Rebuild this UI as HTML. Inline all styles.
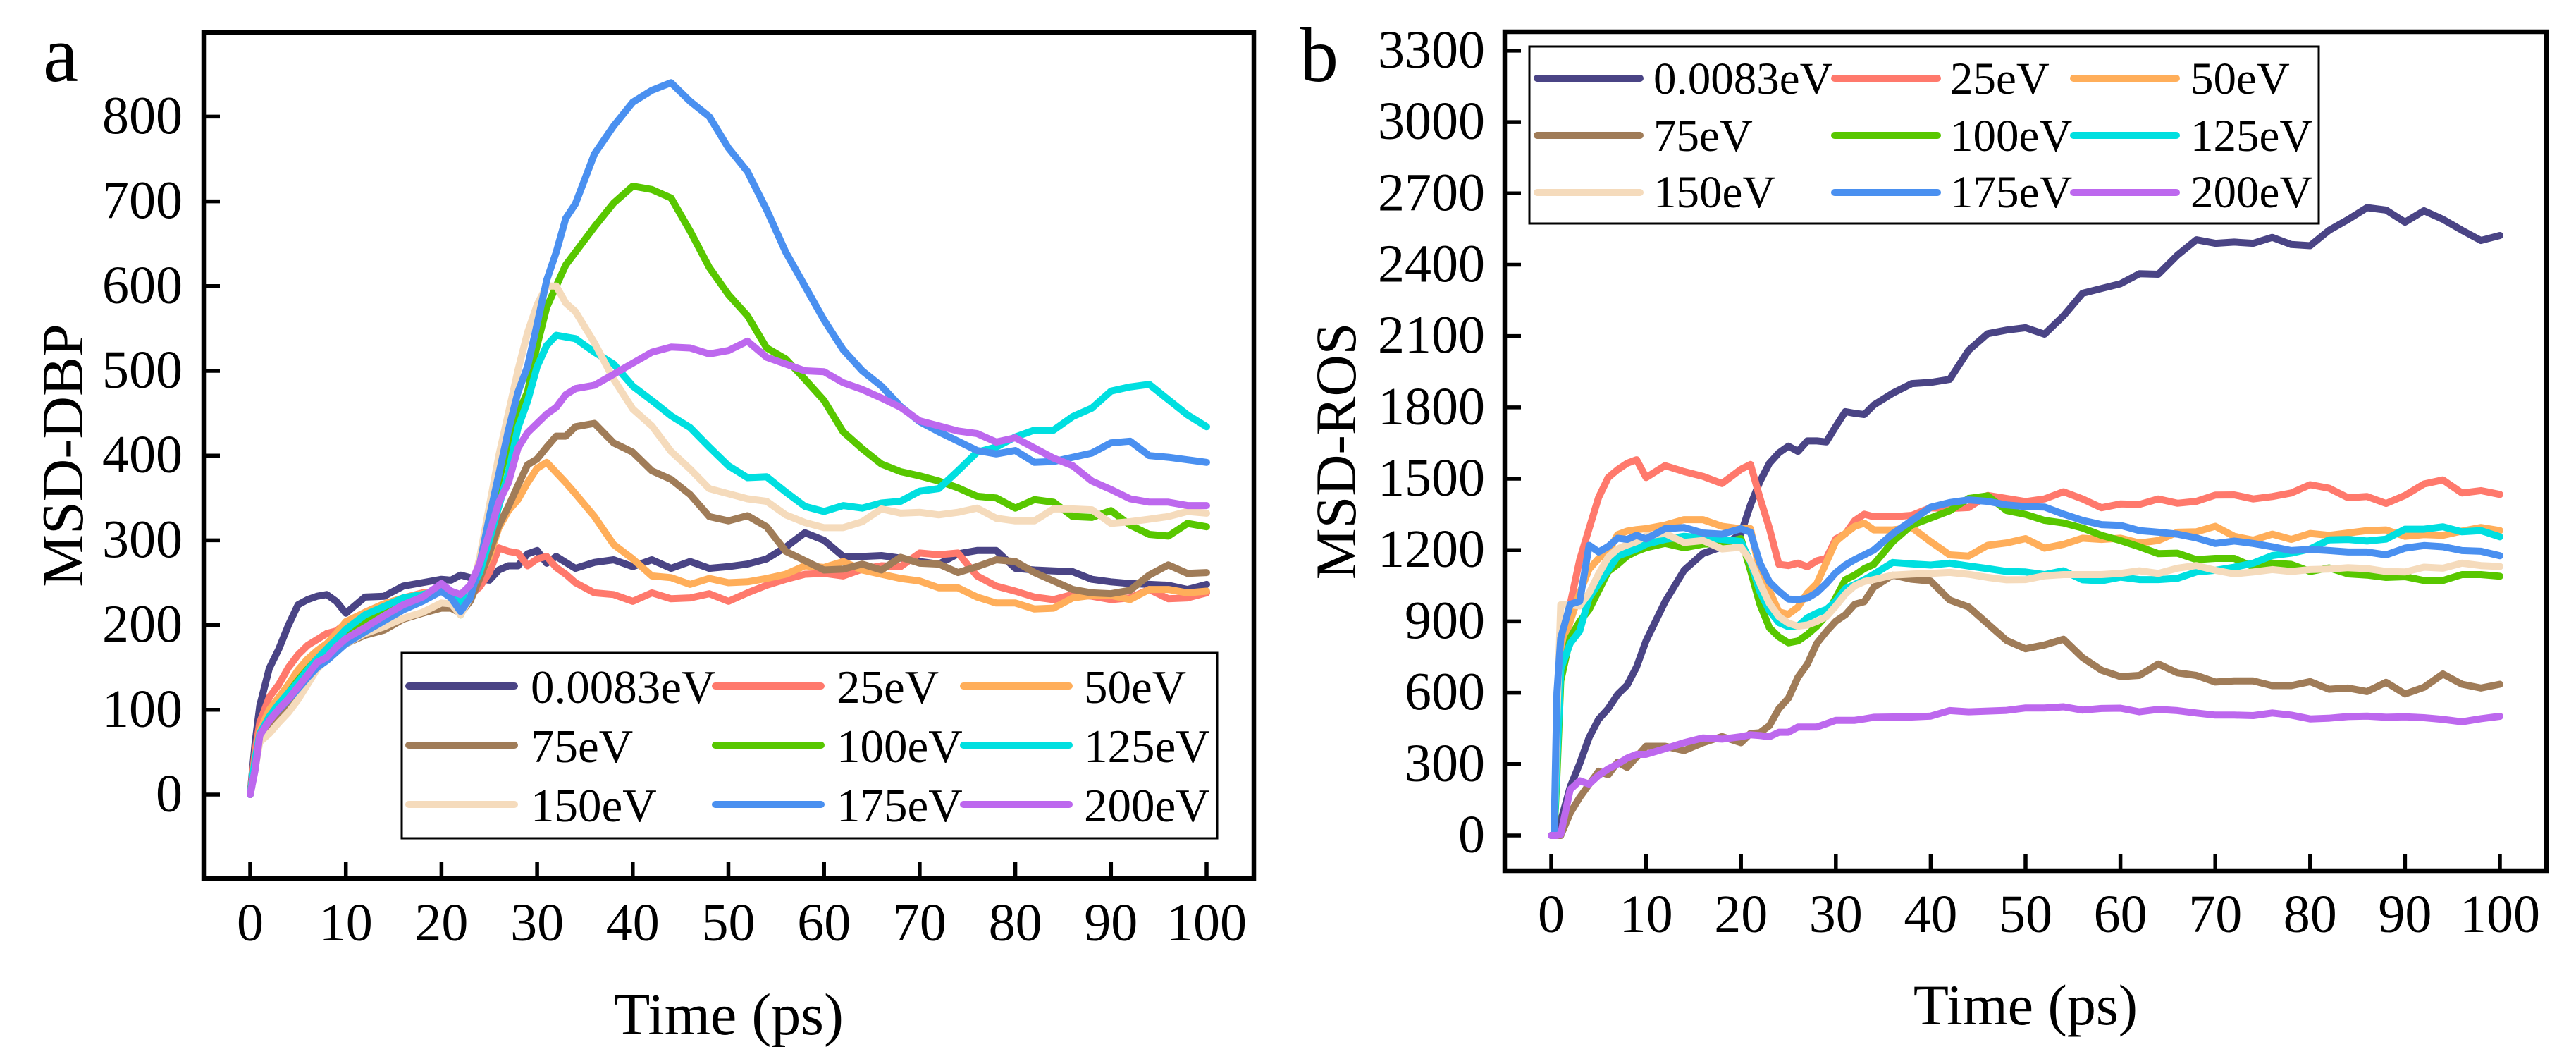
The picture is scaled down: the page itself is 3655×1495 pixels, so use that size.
<!DOCTYPE html>
<html lang="en">
<head>
<meta charset="utf-8">
<title>MSD-DBP and MSD-ROS versus time</title>
<style>
html,body{margin:0;padding:0;background:#fff;width:3655px;height:1495px;overflow:hidden}
svg{display:block}
text{font-family:"Liberation Serif","Times New Roman",serif;fill:#000}
</style>
</head>
<body>
<svg id="figure" xmlns="http://www.w3.org/2000/svg" width="3655" height="1495" viewBox="0 0 3655 1495"></svg>
<script>
// Shared categories
const seriesLabels = ["0.0083eV","25eV","50eV","75eV","100eV","125eV","150eV","175eV","200eV"];
const seriesNames = ["0-0083ev","25ev","50ev","75ev","100ev","125ev","150ev","175ev","200ev"];
const seriesColors = ["#4A4485","#FF796C","#FFAE5A","#A07C58","#58C700","#00DFE0","#F5DBBC","#4A90F0","#BD68EE"];
const xTicks = [0,10,20,30,40,50,60,70,80,90,100];

// Panel a: MSD-DBP
const timeA = [0,0.5,1, 2,3,4,5,6,7,8,9,10, 12,14,16,18,20, 21,22,23,24,25,26,27,28,29,30,31,32,33,34, 36,38,40,42,44,46,48,50,52,54,56,58,60,62,64,66,68,70,72,74,76,78,80,82,84,86,88,90,92,94,96,98,100];
const yTicksA = [0,100,200,300,400,500,600,700,800];
const dbp0083 = [0,60,105, 149,172,200,224,230,234,236,228,214, 233,234,246,250,254, 253,259,256,254,253,265,270,270,284,288,273,281,274,267, 274,277,269,277,267,275,267,269,272,278,292,309,300,281,281,282,279,275,272,284,288,288,267,265,264,263,254,251,249,248,247,242,248];
const dbp25 = [0,50,85, 115,130,150,165,176,183,190,193,202, 215,225,232,238,240, 238,228,235,245,262,291,287,285,270,278,281,268,260,250, 238,236,228,238,231,232,237,228,238,247,254,260,261,258,266,270,269,285,283,285,258,246,240,233,230,236,234,230,232,242,231,232,238];
const dbp50 = [0,40,75, 100,115,130,147,160,170,178,190,204, 215,225,232,237,240, 238,218,240,258,280,315,335,348,368,385,392,380,368,355, 328,295,278,258,256,248,255,250,251,255,260,270,268,275,265,260,255,252,244,244,233,226,226,219,220,232,235,235,230,242,242,238,240];
const dbp75 = [0,30,65, 80,92,105,120,135,150,160,170,178, 188,194,207,214,220, 220,214,228,255,285,318,340,365,389,396,410,423,423,434, 438,415,404,382,372,354,328,323,329,316,287,276,265,266,272,265,280,273,272,262,269,277,275,262,252,242,238,237,241,259,271,261,262];
const dbp100 = [0,35,70, 90,105,120,135,148,160,168,180,190, 205,215,225,232,240, 236,212,240,272,320,370,415,450,475,530,575,600,625,640, 670,698,718,714,704,665,622,590,565,527,514,490,465,428,408,390,381,376,370,362,352,350,338,348,345,328,327,335,318,307,305,320,316];
const dbp125 = [0,40,72, 92,107,120,133,147,160,172,183,195, 212,222,232,236,241, 236,225,240,262,300,340,380,433,464,505,530,542,540,538, 522,508,482,465,447,433,410,388,374,375,357,340,334,341,338,344,346,358,361,382,404,410,422,430,430,446,456,476,481,484,466,448,434];
const dbp150 = [0,30,62, 72,85,97,112,130,148,160,170,178, 190,198,208,215,226, 225,212,232,280,340,400,450,501,545,578,600,600,580,570, 533,490,455,435,405,384,361,355,349,346,330,321,315,315,322,337,332,333,330,333,338,326,323,323,337,337,336,320,322,325,328,334,332];
const dbp175 = [0,30,70, 88,100,112,125,138,150,158,168,178, 192,205,218,228,240, 232,216,232,272,327,378,430,475,505,555,607,640,680,697, 756,789,817,831,840,818,800,763,735,690,640,600,560,525,500,482,458,440,428,417,406,402,406,392,393,398,403,415,417,400,398,395,392];
const dbp200 = [0,28,70, 87,101,113,127,141,156,162,174,184, 197,211,224,233,249, 240,236,247,273,308,345,368,409,427,438,449,457,472,479, 483,496,509,522,528,527,520,524,535,516,508,500,499,486,478,468,457,441,435,429,426,416,421,409,397,388,370,360,349,345,345,341,341];

// Panel b: MSD-ROS
const timeB = [0,0.3,0.6,1, 2,3,4,5,6,7,8,9,10, 12,14,16,18,20, 21,22,23,24,25,26,27,28,29,30,31,32,33,34, 36,38,40,42,44,46,48,50,52,54,56,58,60,62,64,66,68,70,72,74,76,78,80,82,84,86,88,90,92,94,96,98,100];
const yTicksB = [0,300,600,900,1200,1500,1800,2100,2400,2700,3000,3300];
const ros0083 = [0,0,0,60, 204,302,412,489,533,593,632,709,819, 983,1115,1186,1214,1269, 1390,1488,1565,1609,1637,1615,1659,1659,1655,1720,1782,1775,1770,1810, 1860,1900,1905,1918,2040,2110,2125,2135,2108,2185,2280,2300,2320,2362,2360,2440,2505,2490,2495,2490,2515,2485,2480,2545,2590,2640,2630,2579,2627,2591,2545,2502,2523];
const ros25 = [0,0,300,700, 972,1159,1291,1422,1505,1538,1565,1580,1505, 1555,1530,1510,1480,1540, 1560,1420,1291,1140,1135,1145,1130,1155,1165,1247,1269,1324,1351,1340, 1340,1346,1378,1375,1379,1430,1417,1404,1415,1445,1415,1378,1394,1392,1415,1397,1405,1431,1432,1415,1425,1440,1475,1460,1420,1425,1396,1430,1478,1495,1440,1450,1434];
const ros50 = [0,0,300,750, 900,1020,1120,1165,1192,1265,1280,1286,1290, 1305,1328,1328,1300,1290, 1290,1110,1030,940,930,960,1020,1060,1148,1236,1270,1300,1313,1285, 1285,1295,1235,1180,1175,1220,1230,1248,1208,1224,1250,1245,1250,1230,1240,1275,1277,1300,1258,1242,1267,1245,1270,1262,1272,1282,1285,1258,1265,1262,1280,1295,1282];
const ros75 = [0,0,0,0, 94,160,215,270,255,308,286,330,375, 375,357,390,416,390, 429,432,462,533,577,665,720,808,857,901,928,972,983,1044, 1095,1077,1070,990,961,890,820,785,801,825,748,695,668,673,721,684,673,645,650,650,630,630,647,615,620,605,644,595,623,679,636,620,636];
const ros100 = [0,0,250,650, 830,900,950,1030,1110,1140,1175,1195,1210, 1228,1210,1225,1228,1248, 1115,972,873,835,810,818,845,880,925,1000,1075,1095,1122,1140, 1235,1305,1335,1365,1417,1428,1366,1350,1325,1314,1293,1262,1240,1214,1185,1187,1160,1165,1165,1130,1145,1140,1110,1125,1100,1095,1085,1088,1072,1072,1097,1097,1090];
const ros125 = [0,0,300,700, 808,860,1000,1060,1115,1175,1190,1205,1225, 1245,1258,1252,1245,1236, 1150,1025,945,895,878,880,915,935,950,985,1038,1055,1075,1098, 1148,1142,1137,1145,1133,1122,1110,1108,1097,1113,1075,1071,1086,1076,1076,1081,1108,1115,1128,1145,1177,1187,1205,1243,1245,1238,1246,1288,1288,1298,1277,1282,1256];
const ros150 = [0,0,500,970, 970,965,1020,1100,1170,1205,1222,1236,1260, 1270,1232,1240,1205,1212, 1155,1060,975,920,893,880,885,900,920,965,1015,1050,1068,1076, 1095,1099,1102,1106,1098,1085,1075,1076,1092,1097,1097,1097,1102,1113,1102,1124,1135,1115,1100,1108,1118,1110,1118,1120,1126,1122,1110,1108,1128,1124,1145,1135,1131];
const ros175 = [0,0,600,830, 972,985,1220,1192,1215,1250,1245,1262,1247, 1290,1295,1272,1267,1290, 1275,1145,1066,1027,994,992,998,1022,1060,1105,1137,1160,1180,1200, 1269,1324,1380,1400,1411,1405,1390,1383,1381,1351,1325,1307,1304,1282,1275,1267,1251,1228,1238,1228,1214,1198,1203,1198,1192,1192,1180,1208,1219,1214,1198,1195,1176];
const ros200 = [0,0,0,5, 193,230,216,253,280,300,325,341,341, 365,390,410,405,415, 423,420,415,434,434,456,456,456,470,484,484,484,490,497, 498,498,502,525,520,523,526,536,536,541,527,534,535,520,530,525,515,506,506,504,515,506,490,493,500,502,497,499,495,488,478,491,501];

const seriesA = [dbp0083,dbp25,dbp50,dbp75,dbp100,dbp125,dbp150,dbp175,dbp200];
const seriesB = [ros0083,ros25,ros50,ros75,ros100,ros125,ros150,ros175,ros200];

const SVGNS = "http://www.w3.org/2000/svg";
const fig = document.getElementById("figure");

function make(tag, attrs, parent) {
  const el = document.createElementNS(SVGNS, tag);
  for (const k in attrs) el.setAttribute(k, attrs[k]);
  parent.appendChild(el);
  return el;
}

function drawPanel(cfg) {
  const scaleX = t => cfg.x0 + (cfg.x100 - cfg.x0) * t / 100;
  const scaleY = v => cfg.yZero - cfg.yPerUnit * v;

  const g = make("g", {}, fig);
  
  

  // Series lines
  cfg.series.forEach((vals, i) => {
    const pts = vals.map((v, j) => scaleX(cfg.time[j]).toFixed(1) + "," + scaleY(v).toFixed(1)).join(" ");
    const line = make("polyline", {points: pts, fill: "none", stroke: seriesColors[i], "stroke-width": 10, "stroke-linejoin": "round", "stroke-linecap": "round"}, g);
    
    
  });

  // Frame
  const frame = make("rect", {x: cfg.left, y: cfg.top, width: cfg.right - cfg.left, height: cfg.bottom - cfg.top, fill: "none", stroke: "#000", "stroke-width": 6.5}, g);
  
  

  // X ticks and labels
  xTicks.forEach(t => {
    const X = scaleX(t);
    const tick = make("line", {x1: X, x2: X, y1: cfg.bottom, y2: cfg.bottom - 24, stroke: "#000", "stroke-width": 5.5}, g);
    
    
    const lab = make("text", {x: X, y: cfg.xLabelY, "font-size": 76, "text-anchor": "middle"}, g);
    lab.textContent = t;
    
    
  });

  // Y ticks and labels
  cfg.yTicks.forEach(v => {
    const Y = scaleY(v);
    const tick = make("line", {x1: cfg.left, x2: cfg.left + 23, y1: Y, y2: Y, stroke: "#000", "stroke-width": 5.5}, g);
    
    
    const lab = make("text", {x: cfg.yLabelX, y: Y + 24, "font-size": 76, "text-anchor": "end"}, g);
    lab.textContent = v;
    
    
  });

  // Titles
  const xTitle = make("text", {x: (cfg.left + cfg.right) / 2, y: cfg.xTitleY, "font-size": cfg.titleSize, "text-anchor": "middle"}, g);
  xTitle.textContent = "Time (ps)";
  
  

  const yTitle = make("text", {transform: "translate(" + cfg.yTitleX + "," + ((cfg.top + cfg.bottom) / 2) + ") rotate(-90)", "font-size": cfg.titleSize, "text-anchor": "middle"}, g);
  yTitle.textContent = cfg.yTitle;
  
  

  const letter = make("text", {x: cfg.letterX, y: 115, "font-size": cfg.letterSize}, g);
  letter.textContent = cfg.id;
  
  

  // Legend
  const L = cfg.legend;
  const legend = make("g", {}, g);
  
  
  const box = make("rect", {x: L.x, y: L.y, width: L.w, height: L.h, fill: "#fff", stroke: "#000", "stroke-width": 3}, legend);
  
  
  seriesLabels.forEach((name, i) => {
    const col = i % 3, row = Math.floor(i / 3);
    const handle = make("line", {x1: L.hx[col], x2: L.hx[col] + L.hw, y1: L.rowY[row], y2: L.rowY[row], stroke: seriesColors[i], "stroke-width": 10, "stroke-linecap": "round"}, legend);
    
    
    const txt = make("text", {x: L.tx[col], y: L.baseY[row], "font-size": L.size}, legend);
    txt.textContent = name;
    
    
  });
}

drawPanel({
  id: "a", time: timeA, series: seriesA, yTicks: yTicksA, yTitle: "MSD-DBP",
  x0: 355, x100: 1712, yZero: 1127, yPerUnit: 1.202,
  left: 289, right: 1779, top: 46, bottom: 1246,
  xLabelY: 1334, yLabelX: 259, xTitleY: 1467, yTitleX: 117, titleSize: 84,
  letterX: 61, letterSize: 113,
  legend: {x: 570, y: 926, w: 1157, h: 263, size: 67,
    hx: [580, 1015, 1367], hw: 150, rowY: [973, 1057, 1141],
    tx: [753, 1187, 1538], baseY: [997, 1081, 1165]}
});

drawPanel({
  id: "b", time: timeB, series: seriesB, yTicks: yTicksB, yTitle: "MSD-ROS",
  x0: 2201, x100: 3547, yZero: 1185, yPerUnit: 0.3373,
  left: 2135, right: 3613, top: 45, bottom: 1235,
  xLabelY: 1322, yLabelX: 2107, xTitleY: 1453, yTitleX: 1923, titleSize: 82,
  letterX: 1844, letterSize: 110,
  legend: {x: 2170, y: 66, w: 1120, h: 251, size: 65,
    hx: [2181, 2603, 2942], hw: 146, rowY: [111, 192, 273],
    tx: [2346, 2767, 3108], baseY: [133, 214, 294]}
});
</script>
</body>
</html>
